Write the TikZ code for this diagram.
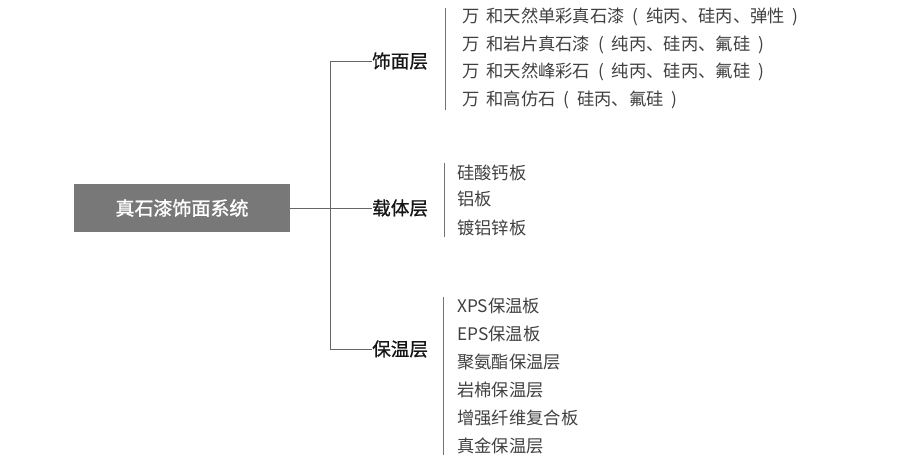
\documentclass[tikz,border=0pt]{standalone}
\usepackage{fontspec}
\setmainfont{Noto Sans CJK SC}
\newfontfamily\semibold[FakeBold=1.2]{Noto Sans CJK SC}
\newfontfamily\midbold[FakeBold=0.8]{Noto Sans CJK SC}
\newcommand{\lpar}{\makebox[1.25em]{(}}
\newcommand{\rpar}{\makebox[1.25em]{)}}
\begin{document}
\begin{tikzpicture}[x=1pt,y=-1pt,
  line/.style={draw=black!60,line width=1pt},
  bar/.style={draw=black!55,line width=0.9pt},
  root/.style={fill=black!53,text=white,minimum width=216pt,minimum height=48pt,inner sep=0pt,font=\fontsize{19}{21}\semibold},
  layer/.style={anchor=west,inner sep=0pt,text=black!92,font=\fontsize{18.6}{20}\midbold},
  item/.style={anchor=west,inner sep=0pt,text=black!75,font=\fontsize{17.3}{19}\selectfont}]
\useasboundingbox (0,0) rectangle (910,461);
\node[root] (main) at (182,208) {真石漆饰面系统};
\node[layer] (l1) at (372,61) {饰面层};
\node[layer] (l2) at (372,208) {载体层};
\node[layer] (l3) at (372,349) {保温层};
\coordinate (st) at (330,61);
\coordinate (sb) at (330,349);
\draw[line] (main.east) -- (l2.west);
\draw[line] (l1.west) -- (st) -- (sb) -- (l3.west);
% facing layer
\coordinate (b1t) at (445,8);
\coordinate (b1b) at (445,110);
\draw[bar] (b1t) -- (b1b);
\node[item] (a1) at (462,17) {万\hspace{7pt}和天然单彩真石漆\lpar 纯丙、硅丙、弹性\rpar};
\node[item] (a2) at (462,45) {万\hspace{7pt}和岩片真石漆\lpar 纯丙、硅丙、氟硅\rpar};
\node[item] (a3) at (462,72) {万\hspace{7pt}和天然峰彩石\lpar 纯丙、硅丙、氟硅\rpar};
\node[item] (a4) at (462,100) {万\hspace{7pt}和高仿石\lpar 硅丙、氟硅\rpar};
% carrier layer
\coordinate (b2t) at (444,163);
\coordinate (b2b) at (444,237);
\draw[bar] (b2t) -- (b2b);
\node[item] (c1) at (457,173) {硅酸钙板};
\node[item] (c2) at (457,199) {铝板};
\node[item] (c3) at (457,228) {镀铝锌板};
% insulation layer
\coordinate (b3t) at (443,297);
\coordinate (b3b) at (443,455);
\draw[bar] (b3t) -- (b3b);
\node[item] (d1) at (457,306) {XPS保温板};
\node[item] (d2) at (457,334) {EPS保温板};
\node[item] (d3) at (457,362) {聚氨酯保温层};
\node[item] (d4) at (457,390) {岩棉保温层};
\node[item] (d5) at (457,418) {增强纤维复合板};
\node[item] (d6) at (457,446) {真金保温层};
\end{tikzpicture}
\end{document}
